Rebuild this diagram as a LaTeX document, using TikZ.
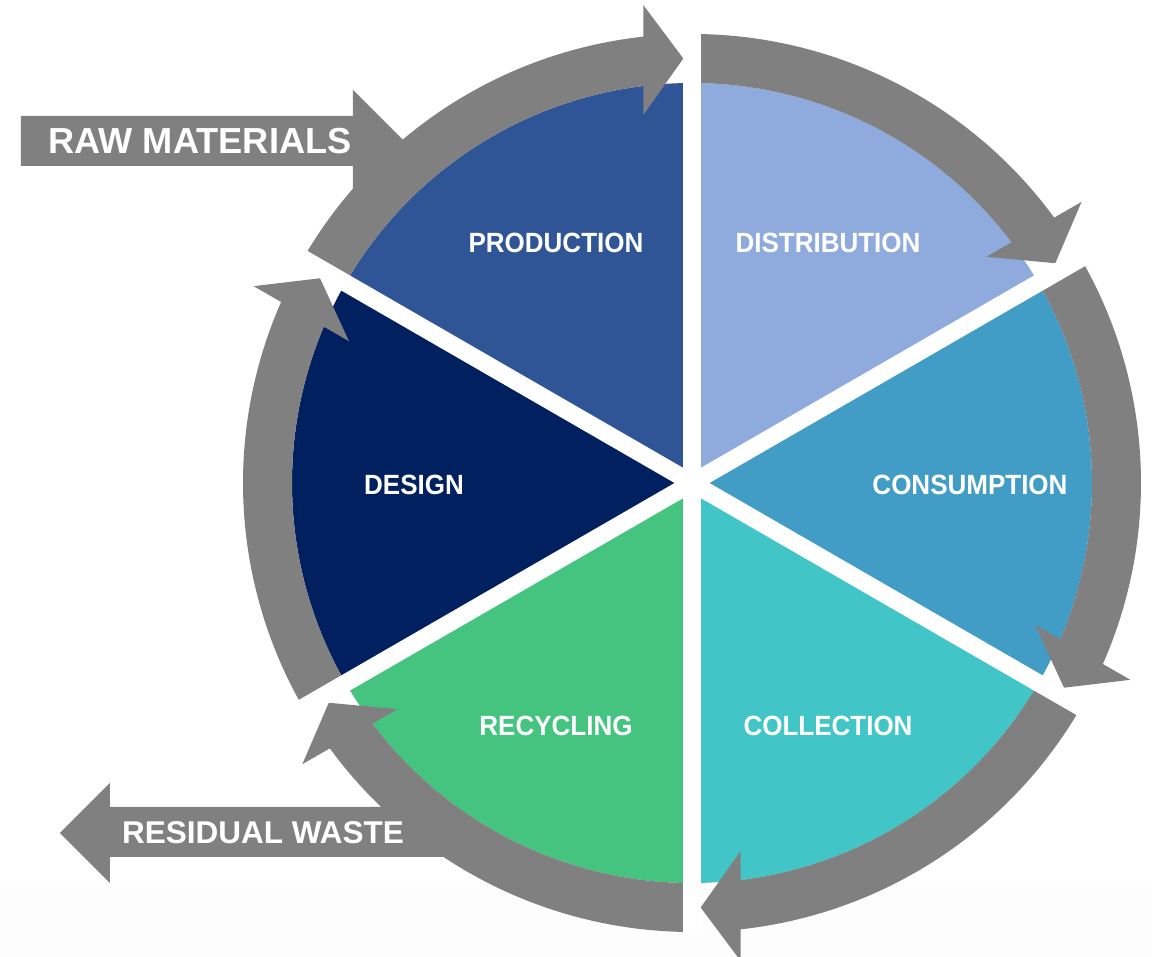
\documentclass[tikz,border=0pt]{standalone}
\usepackage{fontspec}
\usepackage{graphicx}
\setmainfont{Liberation Sans}
\usetikzlibrary{calc}

\definecolor{ringgray}{HTML}{808080}
\definecolor{production}{HTML}{2F5597}
\definecolor{distribution}{HTML}{8FAADC}
\definecolor{consumption}{HTML}{419DC6}
\definecolor{collection}{HTML}{42C5C7}
\definecolor{recycling}{HTML}{45C480}
\definecolor{design}{HTML}{002060}
\definecolor{floorgray}{HTML}{FDFDFD}

\newcommand{\tallcaps}[1]{\scalebox{1}[1.07]{#1}}

\begin{document}
\begin{tikzpicture}[x=1pt,y=1pt,
  seglabel/.style={text=white, inner sep=0pt, font=\bfseries\fontsize{26}{30}\selectfont},
  sidelabel/.style={text=white, inner sep=0pt, font=\bfseries\fontsize{#1}{#1}\selectfont},
  grayshape/.style={fill=ringgray},
  gapline/.style={draw=white, line width=17.4pt}]

% canvas, cycle centred at the origin
\useasboundingbox (-692,-474) rectangle (460,483);
\fill[white] (-692,-474) rectangle (460,483);
\fill[floorgray] (-692,-474) rectangle (460,-400);

% input and output arrows (tucked under the ring)
\fill[grayshape] (-671,367) -- (-339,367) -- (-339,393) -- (-288,342)
  -- (-339,291) -- (-339,317) -- (-671,317) -- cycle;
\fill[grayshape] (-245,-324) -- (-582,-324) -- (-582,-300) -- (-632,-350)
  -- (-582,-400) -- (-582,-374) -- (-245,-374) -- cycle;

% six pie sectors
\foreach \a/\c in {90/production,30/distribution,-30/consumption,
                   -90/collection,-150/recycling,150/design}{
  \fill[\c] (0,0) -- (\a:400) arc[start angle=\a, delta angle=60, radius=400pt] -- cycle;
}

% clockwise ring arrows, one per sector, head at the clockwise end
\foreach \g in {90,30,-30,-90,-150,150}{
  \pgfmathsetmacro{\gs}{\g+60}
  \pgfmathsetmacro{\go}{\g+asin(48.7/449)}
  \pgfmathsetmacro{\gi}{\g+asin(48.7/400)}
  \pgfmathsetmacro{\gp}{\g+90}
  \fill[grayshape] (\gs:449) arc[start angle=\gs, end angle=\go, radius=449pt]
    -- ($(\g:478)+(\gp:48.7)$)
    -- ($(\g:424.5)+(\gp:8.7)$)
    -- ($(\g:368)+(\gp:48.7)$)
    -- (\gi:400) arc[start angle=\gi, end angle=\gs, radius=400pt] -- cycle;
}

% white radial gaps between the sectors
\foreach \g in {90,30,-30}{
  \draw[gapline] (\g:450.5) -- ({\g+180}:450.5);
}

% sector labels
\node[seglabel] (production)   at (-136,240)  {\tallcaps{PRODUCTION}};
\node[seglabel] (distribution) at (136,240)   {\tallcaps{DISTRIBUTION}};
\node[seglabel] (consumption)  at (278,-2)    {\tallcaps{CONSUMPTION}};
\node[seglabel] (collection)   at (136,-243)  {\tallcaps{COLLECTION}};
\node[seglabel] (recycling)    at (-136,-243) {\tallcaps{RECYCLING}};
\node[seglabel] (design)       at (-278,-2)   {\tallcaps{DESIGN}};

% arrow labels
\node[sidelabel=36.2] (raw) at (-492,342) {RAW MATERIALS};
\node[sidelabel=31.5] (waste) at (-429,-350) {RESIDUAL WASTE};
\end{tikzpicture}
\end{document}
